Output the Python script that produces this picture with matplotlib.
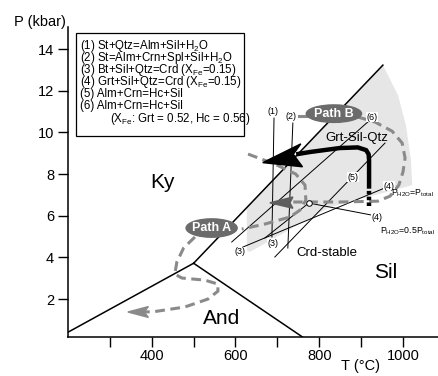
import numpy as np
import matplotlib
matplotlib.use("Agg")
import matplotlib.pyplot as plt
from matplotlib.patches import Ellipse, Polygon, Rectangle

plt.rcParams['font.family'] = ['Liberation Sans', 'DejaVu Sans']
plt.rcParams['mathtext.fontset'] = 'custom'
plt.rcParams['mathtext.rm'] = 'Liberation Sans'
plt.rcParams['mathtext.it'] = 'Liberation Sans:italic'

# aluminosilicate triple point and phase boundaries (T in C, P in kbar)
ky_and_T = [200, 500]
ky_and_P = [0.41, 3.72]
and_sil_T = [500, 760]
and_sil_P = [3.72, 0.18]
ky_sil_T = [500, 952]
ky_sil_P = [3.72, 13.23]

# shaded Grt-Sil-Qtz field
shade_T = [627, 952, 988, 1007, 1019, 1022, 826, 634, 627]
shade_P = [6.42, 13.23, 11.79, 10.35, 8.67, 7.47, 6.42, 4.26, 4.35]

# reaction lines
reactions = {
    '1': ([692, 687], [10.69, 4.98]),
    '2': ([737, 725], [10.45, 4.45]),
    '6': ([591, 921], [4.74, 10.59]),
    '4a': ([618, 962], [4.50, 7.38]),
    '5': ([694, 957], [4.02, 9.49]),
    '4b': ([775, 926], [6.61, 6.03]),
    '3b': ([670, 775], [4.93, 6.61]),
}
inv_point = (775, 6.61)

# P-T paths
pathA_T = [630, 694, 744, 766, 768, 754, 730, 670, 615]
pathA_P = [8.96, 8.48, 8.00, 7.47, 6.75, 6.27, 5.94, 5.60, 5.36]
pathA2_T = [503, 476, 460, 455, 472, 527, 558, 558, 534, 479, 407, 380]
pathA2_P = [4.98, 4.45, 3.78, 3.20, 3.01, 2.91, 2.72, 2.38, 2.00, 1.62, 1.40, 1.38]
pathB_T = [892, 933, 974, 998, 1005, 1000, 990, 969, 940, 849, 738]
pathB_P = [10.74, 10.50, 10.06, 9.49, 8.77, 8.10, 7.47, 6.94, 6.70, 6.66, 6.66]
thick_T = [919, 919, 918, 912, 892, 849, 778, 745]
thick_P = [7.33, 8.67, 8.95, 9.15, 9.28, 9.25, 9.06, 8.95]
thick_dash_T = [919, 919]
thick_dash_P = [6.46, 7.33]

gray = '#8a8a8a'
fig = plt.figure(figsize=(4.39, 3.76), dpi=100)
ax = fig.add_axes([68/439, 1 - 337/376, (439 - 68)/439, (337 - 27)/376])
ax.set_xlim(200, 1086)
ax.set_ylim(0.18, 15.06)

ax.fill(shade_T, shade_P, color='#e6e6e6', lw=0, zorder=0)

ax.plot(ky_and_T, ky_and_P, 'k-', lw=1.1)
ax.plot(and_sil_T, and_sil_P, 'k-', lw=1.1)
ax.plot(ky_sil_T, ky_sil_P, 'k-', lw=1.1)

for key, (t, p) in reactions.items():
    ax.plot(t, p, 'k-', lw=0.7)
ax.plot(*inv_point, 'o', ms=4, mfc='white', mec='k', mew=0.7, zorder=6)

dash = (0, (3.2, 1.8))
ax.plot(pathA_T, pathA_P, color=gray, lw=2.2, ls=dash, zorder=3)
ax.plot(pathA2_T, pathA2_P, color=gray, lw=2.2, ls=dash, zorder=3)
ax.plot(pathB_T, pathB_P, color=gray, lw=2.2, ls=dash, zorder=3)
ax.plot([752, 768], [10.78, 10.78], color=gray, lw=2.2, zorder=3)
ax.add_patch(Polygon([[343, 1.38], [392, 1.64], [382, 1.38], [392, 1.12]],
                     closed=True, color=gray, zorder=3))
ax.add_patch(Polygon([[682, 6.62], [737, 6.90], [730, 6.62], [737, 6.36]],
                     closed=True, color='#5e5e5e', zorder=3))

ax.plot(thick_T, thick_P, 'k-', lw=3.2, solid_capstyle='butt', zorder=4)
ax.plot(thick_dash_T, thick_dash_P, 'k-', lw=3.2, ls=(0, (0.8, 0.5)), zorder=4)
ax.add_patch(Polygon([[665, 8.55], [756, 9.45], [738, 8.95], [760, 8.35]],
                     closed=True, color='k', zorder=4))

ax.add_patch(Ellipse((543, 5.41), 122, 0.88, color='#6b6b6b', zorder=5))
ax.text(543, 5.41, 'Path A', color='white', fontsize=9, fontweight='bold',
        ha='center', va='center', zorder=6)
ax.add_patch(Ellipse((835, 10.9), 132, 0.84, color='#6b6b6b', zorder=5))
ax.text(835, 10.9, 'Path B', color='white', fontsize=9, fontweight='bold',
        ha='center', va='center', zorder=6)

lab = dict(fontsize=6.5, ha='center', va='center', zorder=7,
           bbox=dict(boxstyle='square,pad=0.05', fc='white', ec='none'))
for s, t, p in [('(1)', 689, 11.02), ('(2)', 732, 10.78), ('(6)', 926, 10.74),
                ('(5)', 880, 7.86), ('(4)', 967, 7.42), ('(4)', 938, 5.94),
                ('(3)', 610, 4.26), ('(3)', 689, 4.69)]:
    ax.text(t, p, s, **lab)

ax.text(972, 7.09, r'P$_{\mathrm{H2O}}$=P$_{\mathrm{total}}$', fontsize=6.3,
        ha='left', va='center', zorder=7)
ax.text(944, 5.26, r'P$_{\mathrm{H2O}}$=0.5P$_{\mathrm{total}}$', fontsize=6.3,
        ha='left', va='center', zorder=7)

ax.text(426, 7.62, 'Ky', fontsize=15, ha='center', va='center')
ax.text(567, 1.09, 'And', fontsize=15, ha='center', va='center')
ax.text(959, 3.30, 'Sil', fontsize=15, ha='center', va='center')
ax.text(818, 4.21, 'Crd-stable', fontsize=9.5, ha='center', va='center')
ax.text(890, 9.73, 'Grt-Sil-Qtz', fontsize=9.5, ha='center', va='center', zorder=7)

# legend box
ax.add_patch(Rectangle((218, 9.83), 402, 4.94, fill=False, ec='k', lw=0.9, zorder=8))
legend_lines = [
    r'(1) St+Qtz=Alm+Sil+H$_{\mathrm{2}}$O',
    r'(2) St=Alm+Crn+Spl+Sil+H$_{\mathrm{2}}$O',
    r'(3) Bt+Sil+Qtz=Crd (X$_{\mathrm{Fe}}$=0.15)',
    r'(4) Grt+Sil+Qtz=Crd (X$_{\mathrm{Fe}}$=0.15)',
    '(5) Alm+Crn=Hc+Sil',
    '(6) Alm+Crn=Hc+Sil',
]
legend_P = [14.14, 13.57, 12.99, 12.42, 11.84, 11.26]
for s, p in zip(legend_lines, legend_P):
    ax.text(228, p, s, fontsize=8.3, ha='left', va='center', zorder=8)
ax.text(300, 10.64, r'(X$_{\mathrm{Fe}}$: Grt = 0.52, Hc = 0.56)', fontsize=8.3,
        ha='left', va='center', zorder=8)

ax.spines['top'].set_visible(False)
ax.spines['right'].set_visible(False)
ax.spines['left'].set_linewidth(1.1)
ax.spines['bottom'].set_linewidth(1.1)
ax.set_xticks([400, 600, 800, 1000])
ax.set_xticks([300, 500, 700, 900], minor=True)
ax.set_yticks([2, 4, 6, 8, 10, 12, 14])
ax.tick_params(which='both', direction='out', length=7, width=1, labelsize=10.5)
ax.tick_params(axis='x', pad=2)
ax.tick_params(axis='y', pad=3)

fig.text(40/439, 1 - 22/376, 'P (kbar)', fontsize=10.5, ha='center', va='center')
fig.text(361/439, 1 - 366/376, 'T (°C)', fontsize=10.5, ha='center', va='center')

fig.savefig('out.png', dpi=100)
